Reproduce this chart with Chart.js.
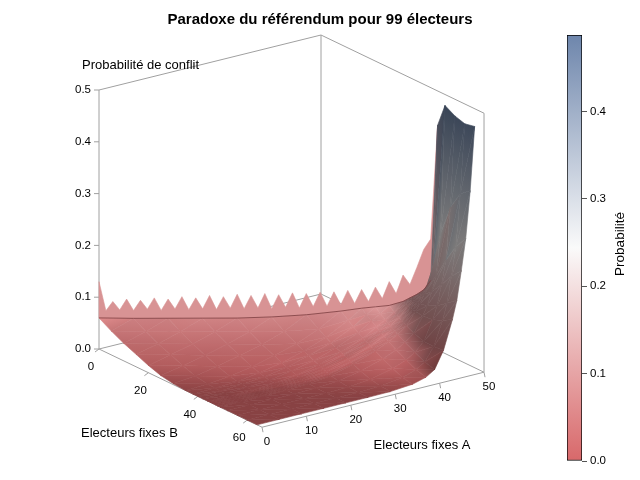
<!DOCTYPE html>
<html lang="fr">
<head>
<meta charset="utf-8">
<title>Paradoxe du référendum</title>
<script src="https://cdn.jsdelivr.net/npm/chart.js@4.4.1/dist/chart.umd.min.js"></script>
<style>
  html, body { margin: 0; padding: 0; background: #fff; }
  #cadre { position: relative; width: 640px; height: 480px; }
  #surface { position: absolute; left: 0; top: 0; }
  #legende { position: absolute; left: 540px; top: 0; }
</style>
</head>
<body>
<div id="cadre">
  <canvas id="surface" width="640" height="480"></canvas>
  <canvas id="legende" width="100" height="480"></canvas>
</div>
<script>
const titre = "Paradoxe du référendum pour 99 électeurs";

// grille
const electeursA = [0, 5, 10, 15, 20, 25, 30, 35, 38, 40, 42, 44, 45, 46, 47, 48, 49];
const electeursB = [0, 5, 10, 15, 20, 25, 30, 35, 38, 40, 42, 44, 45, 46, 47, 48, 49, 52, 56, 60, 64];

// probabilité de conflit : une ligne par valeur de A, colonnes B = A ... 64
const probaConflit = [
  [0.060, 0.046, 0.034, 0.024, 0.014, 0.006, 0.002, 0, 0, 0, 0, 0, 0, 0, 0, 0, 0, 0, 0, 0, 0],
  [0.060, 0.046, 0.034, 0.024, 0.014, 0.006, 0.002, 0.001, 0, 0, 0, 0, 0, 0, 0, 0, 0, 0, 0, 0],
  [0.061, 0.047, 0.034, 0.024, 0.014, 0.006, 0.003, 0.002, 0.001, 0.0005, 0, 0, 0, 0, 0, 0, 0, 0, 0],
  [0.062, 0.047, 0.035, 0.024, 0.014, 0.009, 0.006, 0.004, 0.0025, 0.002, 0.0015, 0.001, 0.001, 0.0005, 0, 0, 0, 0],
  [0.063, 0.048, 0.035, 0.025, 0.018, 0.014, 0.011, 0.0075, 0.006, 0.005, 0.004, 0.003, 0.0025, 0.001, 0, 0, 0],
  [0.066, 0.050, 0.037, 0.030, 0.026, 0.021, 0.017, 0.015, 0.013, 0.011, 0.009, 0.0075, 0.004, 0.0015, 0, 0],
  [0.071, 0.055, 0.046, 0.040, 0.035, 0.031, 0.028, 0.026, 0.024, 0.021, 0.019, 0.013, 0.006, 0.002, 0.0005],
  [0.079, 0.068, 0.060, 0.053, 0.047, 0.044, 0.042, 0.039, 0.036, 0.034, 0.026, 0.016, 0.008, 0.004],
  [0.085, 0.077, 0.070, 0.063, 0.058, 0.056, 0.052, 0.049, 0.046, 0.037, 0.026, 0.017, 0.011],
  [0.088, 0.079, 0.072, 0.068, 0.065, 0.061, 0.059, 0.055, 0.047, 0.037, 0.027, 0.022],
  [0.091, 0.083, 0.080, 0.077, 0.073, 0.071, 0.068, 0.060, 0.054, 0.053, 0.055],
  [0.099, 0.097, 0.095, 0.093, 0.092, 0.091, 0.089, 0.091, 0.099, 0.110],
  [0.106, 0.105, 0.104, 0.104, 0.104, 0.107, 0.116, 0.130, 0.145],
  [0.113, 0.115, 0.117, 0.120, 0.132, 0.155, 0.180, 0.200],
  [0.122, 0.128, 0.135, 0.160, 0.200, 0.235, 0.260],
  [0.140, 0.170, 0.240, 0.300, 0.335, 0.350],
  [0.440, 0.485, 0.474, 0.468, 0.472]
];

// arête dentelée le long de B = A (A = 0 ... 49)
const crete = [
  0.130, 0.074, 0.092, 0.076, 0.097, 0.075, 0.095, 0.078, 0.100, 0.076,
  0.098, 0.079, 0.103, 0.078, 0.101, 0.080, 0.106, 0.079, 0.104, 0.082,
  0.109, 0.081, 0.107, 0.083, 0.111, 0.082, 0.109, 0.085, 0.113, 0.084,
  0.112, 0.087, 0.115, 0.088, 0.116, 0.091, 0.119, 0.094, 0.121, 0.098,
  0.126, 0.104, 0.137, 0.114, 0.150, 0.132, 0.165, 0.200, 0.220, 0.440
];

const ticksProba = [0, 0.1, 0.2, 0.3, 0.4, 0.5];
const ticksA = [0, 10, 20, 30, 40, 50];
const ticksB = [0, 20, 40, 60];
const ticksLegende = [0, 0.1, 0.2, 0.3, 0.4];
const probaMax = 0.4877;
const axeA = 50, axeB = 66, axeZ = 0.5;

// géométrie de la vue (projection parallèle)
const vue = { x0: 99, y0: 349, ax: 4.44, ay: -1.1, bx: 2.47, by: 1.185, zy: -518 };
const lumiere = { ambiante: 0.5, dir: [0.3, 1.1, 0.13] };
const rampe = [[216, 104, 106], [250, 250, 250], [110, 134, 172]];
const gris = '#a0a0a0';
const police = '"Liberation Sans", Arial, sans-serif';

function projete(a, b, z) {
  return { x: vue.x0 + a * vue.ax + b * vue.bx, y: vue.y0 + a * vue.ay + b * vue.by + z * vue.zy };
}

function teinte(p) {
  const t = Math.max(0, Math.min(1, p / probaMax)) * 2;
  const k = t < 1 ? 0 : 1;
  const f = t - k;
  return rampe[k].map((c, n) => c + (rampe[k + 1][n] - c) * f);
}

function rgb(c, lum) {
  return `rgb(${c.map(v => Math.round(v * lum)).join(',')})`;
}

const proba = (i, j) => (j >= i && j < electeursB.length ? probaConflit[i][j - i] : undefined);

// pente locale puis couleur éclairée à chaque sommet de la grille
function pente(i, j) {
  let ia = i - 1, ib = i + 1;
  if (ib >= electeursA.length || proba(ib, j) === undefined) ib = i;
  if (ia < 0) ia = i;
  const dA = ib === ia ? 0 : (proba(ib, j) - proba(ia, j)) / (electeursA[ib] - electeursA[ia]);
  let ja = j - 1, jb = j + 1;
  if (proba(i, ja) === undefined) ja = j;
  if (proba(i, jb) === undefined) jb = j;
  const dB = jb === ja ? 0 : (proba(i, jb) - proba(i, ja)) / (electeursB[jb] - electeursB[ja]);
  return { dA, dB };
}

function eclaire(i, j) {
  const { dA, dB } = pente(i, j);
  const n = [-dA * axeA / axeZ, -dB * axeB / axeZ, 1];
  const l = Math.hypot(...n);
  const d = (n[0] * lumiere.dir[0] + n[1] * lumiere.dir[1] + n[2] * lumiere.dir[2]) / l;
  const lum = Math.min(1, lumiere.ambiante + Math.max(0, d));
  return teinte(proba(i, j)).map(v => v * lum);
}

function trait(points, couleur, largeur) {
  return {
    data: points.map(p => projete(...p)),
    borderColor: couleur, borderWidth: largeur,
    pointRadius: 0, fill: false
  };
}

function polygone(points, couleur) {
  const data = points.map(p => projete(...p));
  data.push(data[0]);
  return {
    data, backgroundColor: couleur, borderColor: couleur, borderWidth: 0.6,
    pointRadius: 0, fill: 'shape'
  };
}

function degrade(de, vers, c1, c2) {
  return ctx => {
    const { x, y } = ctx.chart.scales;
    if (!x || !y) return rgb(c1, 1);
    const xy = [x.getPixelForValue(de.x), y.getPixelForValue(de.y),
                x.getPixelForValue(vers.x), y.getPixelForValue(vers.y)];
    if (!xy.every(Number.isFinite)) return rgb(c1, 1);
    const g = ctx.chart.ctx.createLinearGradient(...xy);
    g.addColorStop(0, rgb(c1, 1));
    g.addColorStop(1, rgb(c2, 1));
    return g;
  };
}

// triangle ombré : dégradé linéaire dans le sens où la clarté varie
function triangle(sommets) {
  const q = sommets.map(s => projete(...s.p));
  const s = sommets.map(v => (v.c[0] + v.c[1] + v.c[2]) / 3);
  const jeu = polygone(sommets.map(v => v.p), null);
  let k = 0, m = 0;
  s.forEach((v, n) => { if (v < s[k]) k = n; if (v > s[m]) m = n; });
  const e1 = { x: q[1].x - q[0].x, y: q[1].y - q[0].y };
  const e2 = { x: q[2].x - q[0].x, y: q[2].y - q[0].y };
  const det = e1.x * e2.y - e1.y * e2.x;
  if (Math.abs(det) < 1e-6 || s[m] - s[k] < 0.3) {
    const c = sommets[0].c.map((v, n) => (v + sommets[1].c[n] + sommets[2].c[n]) / 3);
    jeu.backgroundColor = jeu.borderColor = rgb(c, 1);
    return jeu;
  }
  const ds1 = s[1] - s[0], ds2 = s[2] - s[0];
  const gx = (ds1 * e2.y - ds2 * e1.y) / det;
  const gy = (e1.x * ds2 - e2.x * ds1) / det;
  const t = (s[m] - s[k]) / (gx * gx + gy * gy);
  const vers = { x: q[k].x + gx * t, y: q[k].y + gy * t };
  jeu.backgroundColor = jeu.borderColor = degrade(q[k], vers, sommets[k].c, sommets[m].c);
  return jeu;
}

// couches dans l'ordre du fond vers l'avant
const couches = [];

// cadre de la boîte
[
  [[0, 0, 0], [0, 0, axeZ]],
  [[0, 0, axeZ], [axeA, 0, axeZ]],
  [[axeA, 0, 0], [axeA, 0, axeZ]],
  [[axeA, 0, axeZ], [axeA, axeB, axeZ]],
  [[axeA, axeB, 0], [axeA, axeB, axeZ]],
  [[0, 0, 0], [axeA, 0, 0]],
  [[axeA, 0, 0], [axeA, axeB, 0]],
  [[0, 0, 0], [0, axeB, 0]],
  [[0, axeB, 0], [axeA, axeB, 0]]
].forEach(s => couches.push(trait(s, gris, 1)));

// graduations
ticksProba.forEach(z => {
  const p = projete(0, 0, z);
  couches.push({ data: [p, { x: p.x - 5, y: p.y }], borderColor: gris, borderWidth: 1, pointRadius: 0 });
});
ticksB.forEach(b => {
  const p = projete(0, b, 0);
  couches.push({ data: [p, { x: p.x - 4, y: p.y + 3 }], borderColor: gris, borderWidth: 1, pointRadius: 0 });
});
ticksA.forEach(a => {
  const p = projete(a, axeB, 0);
  couches.push({ data: [p, { x: p.x + 1, y: p.y + 5 }], borderColor: gris, borderWidth: 1, pointRadius: 0 });
});

// arête dentelée
const bordCrete = crete.map((z, a) => [a, a, z]);
for (let i = electeursA.length - 1; i >= 0; i--) {
  bordCrete.push([electeursA[i], electeursA[i], probaConflit[i][0]]);
}
couches.push(polygone(bordCrete, rgb(teinte(0.085), 0.95)));

// facettes triangulaires de la surface
const sommet = (i, j) => ({ p: [electeursA[i], electeursB[j], proba(i, j)], c: eclaire(i, j) });
const facettes = [];
for (let i = 0; i < electeursA.length - 1; i++) {
  for (let j = i; j < electeursB.length - 1; j++) {
    const tris = j === i
      ? [[sommet(i, i), sommet(i, i + 1), sommet(i + 1, i + 1)]]
      : [[sommet(i, j), sommet(i, j + 1), sommet(i + 1, j + 1)],
         [sommet(i, j), sommet(i + 1, j + 1), sommet(i + 1, j)]];
    tris.forEach(t => {
      const prof = t.reduce((s, v) => s + v.p[0] * vue.ay + v.p[1] * vue.by, 0) / 3;
      facettes.push({ prof, jeu: triangle(t) });
    });
  }
}
facettes.sort((f, g) => f.prof - g.prof).forEach(f => couches.push(f.jeu));

// ligne sombre au pied des dents
const pied = electeursA.map((a, i) => [a, a, probaConflit[i][0]]).filter(p => p[0] <= 48);
couches.push(trait(pied, '#7c3e40', 0.8));

const textes = {
  id: 'textes',
  afterDraw(chart) {
    const { ctx, scales: { x, y } } = chart;
    const ecrire = (txt, p, dx, dy, align) => {
      ctx.textAlign = align;
      ctx.fillText(txt, x.getPixelForValue(p.x) + dx, y.getPixelForValue(p.y) + dy);
    };
    ctx.save();
    ctx.fillStyle = '#000';
    ctx.textBaseline = 'middle';
    ctx.font = `bold 15px ${police}`;
    ecrire(titre, { x: 320, y: 20 }, 0, 0, 'center');
    ctx.font = `11.5px ${police}`;
    ticksProba.forEach(z => ecrire(z.toFixed(1), projete(0, 0, z), -8, 0, 'right'));
    ticksB.forEach(b => ecrire(String(b), projete(0, b, 0), -8, 18, 'center'));
    ticksA.forEach(a => ecrire(String(a), projete(a, axeB, 0), 5, 15, 'center'));
    ctx.font = `13px ${police}`;
    ecrire('Probabilité de conflit', projete(0, 0, axeZ), -17, -25, 'left');
    ecrire('Electeurs fixes B', projete(0, axeB, 0), -181, 6, 'left');
    ecrire('Electeurs fixes A', projete(axeA, axeB, 0), -62, 73, 'center');
    ctx.restore();
  }
};

new Chart(document.getElementById('surface'), {
  type: 'line',
  data: { datasets: couches.reverse() },
  options: {
    responsive: false,
    animation: false,
    events: [],
    layout: { padding: 0 },
    scales: {
      x: { type: 'linear', min: 0, max: 640, display: false },
      y: { type: 'linear', min: 0, max: 480, reverse: true, display: false }
    },
    plugins: { legend: { display: false }, tooltip: { enabled: false } }
  },
  plugins: [textes]
});

// barre de couleurs
const titreLegende = {
  id: 'titreLegende',
  afterDraw(chart) {
    const { ctx, chartArea } = chart;
    ctx.save();
    ctx.translate(chart.width - 20, (chartArea.top + chartArea.bottom) / 2 - 4);
    ctx.rotate(-Math.PI / 2);
    ctx.font = `13.5px ${police}`;
    ctx.fillStyle = '#000';
    ctx.textAlign = 'center';
    ctx.textBaseline = 'middle';
    ctx.fillText('Probabilité', 0, 0);
    ctx.restore();
  }
};

new Chart(document.getElementById('legende'), {
  type: 'bar',
  data: {
    labels: [''],
    datasets: [{
      data: [probaMax],
      backgroundColor: c => {
        const a = c.chart.chartArea;
        if (!a) return '#fff';
        const g = c.chart.ctx.createLinearGradient(0, a.bottom, 0, a.top);
        rampe.forEach((col, k) => g.addColorStop(k / (rampe.length - 1), rgb(col, 1)));
        return g;
      },
      borderColor: '#000',
      borderWidth: 1,
      borderSkipped: false,
      barPercentage: 1,
      categoryPercentage: 1
    }]
  },
  options: {
    responsive: false,
    animation: false,
    events: [],
    layout: { padding: { left: 27, top: 35, bottom: 19, right: 0 } },
    scales: {
      x: { display: false },
      y: {
        position: 'right', min: 0, max: probaMax,
        afterFit: s => { s.width = 58; },
        afterBuildTicks: s => { s.ticks = ticksLegende.map(v => ({ value: v })); },
        ticks: { callback: v => v.toFixed(1), color: '#000', padding: 3, font: { size: 11.5, family: police } },
        grid: { drawOnChartArea: false, tickLength: 5, color: '#555' },
        border: { display: false }
      }
    },
    plugins: { legend: { display: false }, tooltip: { enabled: false } }
  },
  plugins: [titreLegende]
});
</script>
</body>
</html>
